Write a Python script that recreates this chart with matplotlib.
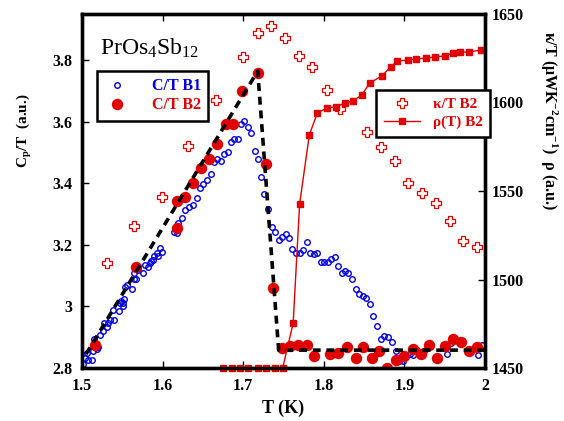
import numpy as np
import matplotlib
matplotlib.use("Agg")
from matplotlib import pyplot as plt

plt.rcParams['font.family'] = ['Liberation Serif', 'DejaVu Serif']
plt.rcParams['mathtext.fontset'] = 'custom'
plt.rcParams['mathtext.rm'] = 'Liberation Serif'
plt.rcParams['mathtext.it'] = 'Liberation Serif:italic'
plt.rcParams['mathtext.bf'] = 'Liberation Serif:bold'

VERMELHO = '#e00000'
AZUL = '#0000e0'

# C/T amostra B1 (circulos abertos azuis)
t_b1 = [1.501, 1.504, 1.506, 1.507, 1.512, 1.514, 1.515, 1.516, 1.519, 1.520,
        1.522, 1.526, 1.527, 1.531, 1.532, 1.535, 1.538, 1.540, 1.546, 1.547,
        1.548, 1.551, 1.551, 1.552, 1.553, 1.556, 1.562, 1.565, 1.567, 1.565,
        1.569, 1.576, 1.578, 1.582, 1.584, 1.586, 1.588, 1.589, 1.593, 1.594,
        1.597, 1.599, 1.614, 1.618, 1.619, 1.624, 1.628, 1.633, 1.638, 1.643,
        1.646, 1.650, 1.655, 1.660, 1.664, 1.667, 1.672, 1.676, 1.681, 1.685,
        1.689, 1.694, 1.697, 1.701, 1.706, 1.710, 1.715, 1.718, 1.722, 1.726,
        1.731, 1.736, 1.739, 1.744, 1.748, 1.753, 1.757, 1.761, 1.766, 1.770,
        1.774, 1.779, 1.783, 1.788, 1.792, 1.797, 1.800, 1.805, 1.809, 1.814,
        1.818, 1.823, 1.826, 1.830, 1.835, 1.840, 1.844, 1.849, 1.852, 1.857,
        1.861, 1.866, 1.871, 1.875, 1.880, 1.885, 1.890, 1.893, 1.898, 1.907,
        1.911, 1.916, 1.924, 1.949, 1.953, 1.958, 1.964, 1.968, 1.980, 1.991,
        1.996]
c_b1 = [2.813, 2.832, 2.849, 2.826, 2.826, 2.855, 2.894, 2.868, 2.862, 2.868,
        2.907, 2.920, 2.946, 2.933, 2.946, 2.956, 2.988, 2.956, 2.985, 3.011,
        3.018, 3.011, 3.001, 3.024, 3.063, 3.069, 3.056, 3.089, 3.089, 3.108,
        3.118, 3.108, 3.134, 3.128, 3.141, 3.147, 3.151, 3.164, 3.173, 3.164,
        3.190, 3.177, 3.242, 3.238, 3.271, 3.287, 3.313, 3.323, 3.329, 3.352,
        3.384, 3.397, 3.410, 3.430, 3.469, 3.479, 3.472, 3.495, 3.501, 3.534,
        3.544, 3.544, 3.592, 3.602, 3.582, 3.563, 3.505, 3.479, 3.420, 3.365,
        3.316, 3.258, 3.242, 3.216, 3.225, 3.235, 3.222, 3.186, 3.173, 3.173,
        3.183, 3.209, 3.173, 3.170, 3.173, 3.144, 3.144, 3.144, 3.154, 3.160,
        3.131, 3.108, 3.115, 3.108, 3.089, 3.056, 3.040, 3.034, 3.027, 3.008,
        2.969, 2.936, 2.894, 2.904, 2.901, 2.884, 2.855, 2.823, 2.823, 2.845,
        2.842, 2.858, 2.855, 2.865, 2.845, 2.881, 2.891, 2.888, 2.858, 2.842,
        2.875]

# C/T amostra B2 (circulos cheios vermelhos)
t_b2 = [1.516, 1.567, 1.618, 1.618, 1.628, 1.638, 1.648, 1.658, 1.667, 1.679,
        1.687, 1.699, 1.718, 1.728, 1.737, 1.748, 1.758, 1.768, 1.779, 1.788,
        1.808, 1.818, 1.829, 1.840, 1.849, 1.860, 1.868, 1.878, 1.890, 1.900,
        1.911, 1.921, 1.931, 1.940, 1.950, 1.960, 1.970, 1.980, 1.990]
c_b2 = [2.875, 3.128, 3.255, 3.342, 3.355, 3.401, 3.449, 3.479, 3.527, 3.592,
        3.592, 3.699, 3.758, 3.462, 3.060, 2.865, 2.871, 2.875, 2.875, 2.839,
        2.845, 2.849, 2.868, 2.832, 2.868, 2.832, 2.855, 2.800, 2.826, 2.839,
        2.862, 2.845, 2.875, 2.832, 2.871, 2.894, 2.884, 2.855, 2.868]

# linha tracejada (idealizacao do salto)
t_ideal = [1.505, 1.718, 1.744, 2.0]
c_ideal = [2.845, 3.764, 2.858, 2.858]

# kappa/T B2 (eixo da direita)
t_kappa = [1.531, 1.565, 1.599, 1.632, 1.666, 1.700, 1.718, 1.734, 1.752, 1.769,
           1.785, 1.804, 1.820, 1.854, 1.871, 1.888, 1.904, 1.922, 1.939, 1.957,
           1.973, 1.990]
kappa = [1509.3, 1530.2, 1546.6, 1575.4, 1601.4, 1625.7, 1639.3, 1643.2, 1636.4, 1626.3,
         1620.1, 1607.1, 1596.3, 1583.3, 1574.9, 1567.0, 1554.5, 1548.9, 1543.2, 1533.1,
         1521.8, 1518.4]

# rho(T) B2 (u.a., na mesma escala da direita)
t_rho = [1.675, 1.686, 1.696, 1.706, 1.718, 1.728, 1.739, 1.749, 1.762, 1.770,
         1.782, 1.792, 1.804, 1.815, 1.826, 1.836, 1.847, 1.857, 1.872, 1.883,
         1.891, 1.904, 1.914, 1.927, 1.938, 1.950, 1.960, 1.969, 1.980, 1.995]
rho = [1450, 1450, 1450, 1450, 1450, 1450, 1450, 1450, 1475.4, 1542.7,
       1581.6, 1594.1, 1596.9, 1597.5, 1599.7, 1600.8, 1604.2, 1611.0, 1615.0, 1620.1,
       1623.4, 1624.0, 1624.6, 1625.1, 1625.7, 1626.3, 1628.0, 1628.5, 1628.5, 1629.7]

fig = plt.figure(figsize=(5.64, 4.21), dpi=100)
ax = fig.add_axes([82/564, 1 - 368/421, 403/564, 354/421])
ax2 = ax.twinx()

b1, = ax.plot(t_b1, c_b1, 'o', ms=4.0, mfc='none', mec=AZUL, mew=1.0, label='C/T B1', zorder=3)
b2, = ax.plot(t_b2, c_b2, 'o', ms=7.2, color=VERMELHO, mec=VERMELHO, label='C/T B2', zorder=4)
ax.plot(t_ideal, c_ideal, '--', color='black', lw=2.6, dashes=(2.2, 1.6), zorder=5)

kp, = ax2.plot(t_kappa, kappa, 'P', ms=6.8, mfc='white', mec=VERMELHO, mew=0.9,
               ls='none', label='κ/T B2')
rh, = ax2.plot(t_rho, rho, 's-', ms=5, color=VERMELHO, lw=1.0, label='ρ(T) B2',
               clip_on=False)

ax.set_xlim(1.5, 2.0)
ax.set_ylim(2.8, 2.8 + 354/308)
ax2.set_ylim(1450, 1650)
ax.set_xticks([1.5, 1.6, 1.7, 1.8, 1.9, 2.0])
ax.set_xticklabels(['1.5', '1.6', '1.7', '1.8', '1.9', '2'])
ax.set_yticks([2.8, 3.0, 3.2, 3.4, 3.6, 3.8])
ax.set_yticklabels(['2.8', '3', '3.2', '3.4', '3.6', '3.8'])
ax2.set_yticks([1450, 1500, 1550, 1600, 1650])

for a in (ax, ax2):
    for s in a.spines.values():
        s.set_linewidth(2.4)
    a.tick_params(direction='in', length=5, width=1, labelsize=11.5, pad=7)
ax.tick_params(top=True)
ax2.tick_params(right=True, left=False, pad=5)
for lab in ax.get_xticklabels() + ax.get_yticklabels() + ax2.get_yticklabels():
    lab.set_fontweight('bold')

ax.set_xlabel('T (K)', fontsize=13, fontweight='bold', labelpad=4)
ax.set_ylabel(r'C$_{\mathbf{p}}$/T  (a.u.)', fontsize=11, fontweight='bold')
ax.yaxis.set_label_coords(-0.12, 0.67)
ax2.set_ylabel(r'κ/T (μWK$^{\mathbf{-2}}$cm$^{\mathbf{-1}}$)  ρ (a.u.)', fontsize=11.5,
               fontweight='bold', rotation=270)
ax2.yaxis.set_label_coords(1.185, 0.70)

ax.text(0.045, 0.884, r'PrOs$_4$Sb$_{12}$', transform=ax.transAxes, fontsize=17,
        va='baseline')

leg1 = ax2.legend(handles=[b1, b2], loc='upper left', bbox_to_anchor=(0.037, 0.839),
                  borderaxespad=0, fancybox=False, edgecolor='black', framealpha=1,
                  prop={'weight': 'bold', 'size': 11.5}, handletextpad=1.4,
                  borderpad=0.45, labelspacing=0.2, handlelength=1.6)
leg1.get_frame().set_linewidth(1.8)
for txt, cor in zip(leg1.get_texts(), [AZUL, VERMELHO]):
    txt.set_color(cor)
ax2.add_artist(leg1)

leg2 = ax2.legend(handles=[kp, rh], loc='upper left', bbox_to_anchor=(0.7295, 0.785),
                  borderaxespad=0, fancybox=False, edgecolor='black', framealpha=1,
                  prop={'weight': 'bold', 'size': 11}, handletextpad=0.8,
                  borderpad=0.5, labelspacing=0.25, handlelength=2.4)
leg2.get_frame().set_linewidth(1.8)
for txt in leg2.get_texts():
    txt.set_color(VERMELHO)

fig.savefig('out.png', dpi=100)
